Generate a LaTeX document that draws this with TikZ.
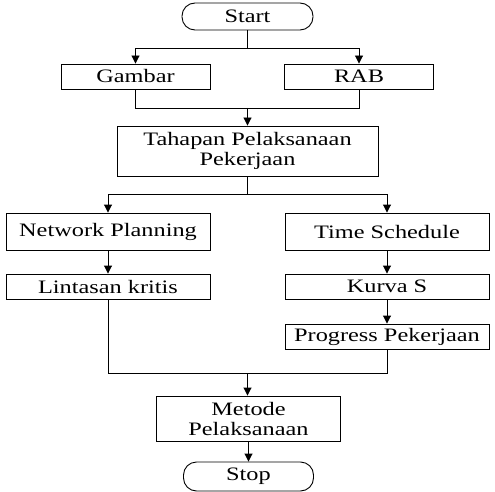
\documentclass[tikz,border=0pt]{standalone}
\usepackage{fontspec}
\setmainfont[FakeStretch=1.28]{Liberation Serif}
\usepackage{tikz}
\usetikzlibrary{arrows.meta,positioning,calc}

\begin{document}
\begin{tikzpicture}[x=1pt, y=-1pt,
    box/.style={draw, line width=0.9pt, inner sep=0pt, align=center,
        font=\fontsize{19}{20}\selectfont},
    term/.style={box, rounded corners=13pt},
    arr/.style={line width=0.9pt, -{Triangle[width=8pt,length=8pt]}},
    ln/.style={line width=0.9pt}]
    \useasboundingbox (0,0) rectangle (495,492);

    % Start and inputs
    \node[term, minimum width=131pt, minimum height=27pt] (start) at (247.5,16.5) {Start};
    \node[box, minimum width=149pt, minimum height=25pt] (gambar) at (135.5,76.5) {Gambar};
    \node[box, minimum width=149pt, minimum height=25pt] (rab) at (359,76.5) {RAB};
    \node[box, minimum width=261pt, minimum height=50pt] (tahapan) at (247.5,151) {Tahapan Pelaksanaan\\Pekerjaan};

    % Two branches
    \node[box, minimum width=204pt, minimum height=37pt] (network) at (108,231.5) {Network Planning};
    \node[box, minimum width=204pt, minimum height=37pt] (time) at (387,231.5) {Time Schedule};
    \node[box, minimum width=204pt, minimum height=25pt] (lintasan) at (108,286.5) {Lintasan kritis};
    \node[box, minimum width=204pt, minimum height=25pt] (kurva) at (387,286.5) {Kurva S};
    \node[box, minimum width=204pt, minimum height=25pt] (progress) at (387,336.5) {Progress Pekerjaan};

    % Result
    \node[box, minimum width=184pt, minimum height=45pt] (metode) at (248.5,418.5) {Metode\\Pelaksanaan};
    \node[term, minimum width=130pt, minimum height=29pt] (stop) at (248.5,476.5) {Stop};

    % Junctions
    \coordinate (split1) at (247.5,48);
    \coordinate (merge1) at (247.5,108);
    \coordinate (split2) at (247.5,194);
    \coordinate (merge2) at (247.5,373);

    % Connectors
    \draw[ln] (start.south) -- (split1);
    \draw[arr] (split1) -| (gambar.north);
    \draw[arr] (split1) -| (rab.north);
    \draw[ln] (gambar.south) |- (merge1);
    \draw[ln] (rab.south) |- (merge1);
    \draw[arr] (merge1) -- (merge1 |- tahapan.north);
    \draw[ln] (tahapan.south) -- (split2);
    \draw[arr] (split2) -| (network.north);
    \draw[arr] (split2) -| (time.north);
    \draw[arr] (network) -- (lintasan);
    \draw[arr] (time) -- (kurva);
    \draw[arr] (kurva) -- (progress);
    \draw[ln] (lintasan.south) |- (merge2);
    \draw[ln] (progress.south) |- (merge2);
    \draw[arr] (merge2) -- (merge2 |- metode.north);
    \draw[arr] (metode) -- (stop);
\end{tikzpicture}
\end{document}
